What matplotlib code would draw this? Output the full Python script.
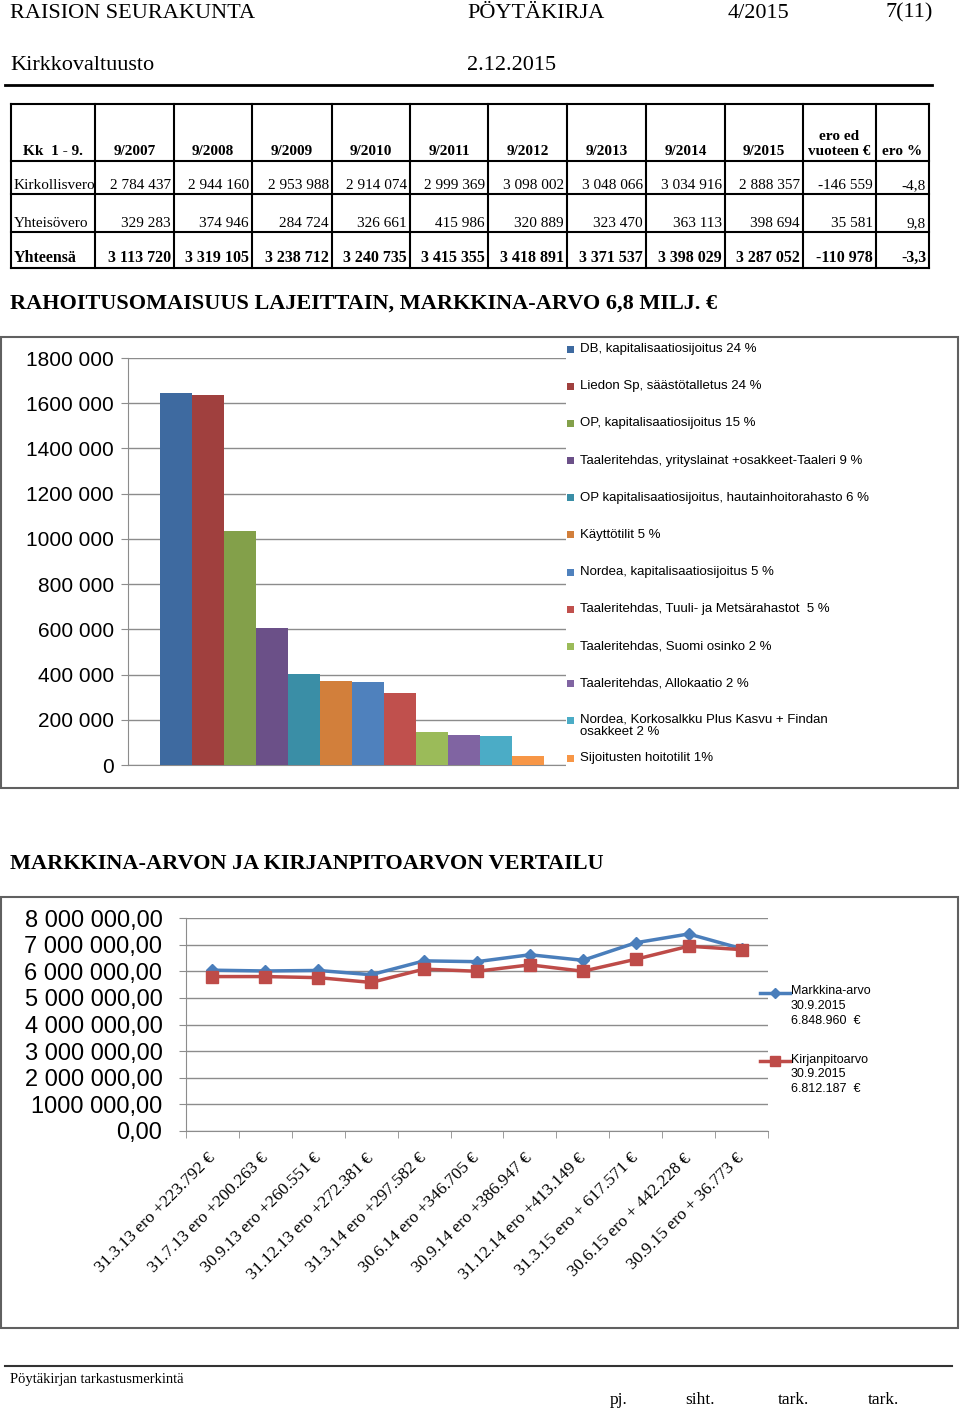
import matplotlib
matplotlib.use('Agg')
import matplotlib.pyplot as plt
from matplotlib.patches import Rectangle
from matplotlib.lines import Line2D

W, H = 960, 1412
SERIF = 'Liberation Serif'
SANS = 'Liberation Sans'
NARROW = ['Liberation Sans Narrow', 'Liberation Sans']

# --- table data ---
tbl_header = ['Kk  1 - 9.', '9/2007', '9/2008', '9/2009', '9/2010', '9/2011',
              '9/2012', '9/2013', '9/2014', '9/2015', 'ero ed\nvuoteen €', 'ero %']
row_names = ['Kirkollisvero', 'Yhteisövero', 'Yhteensä']
kirkollisvero = [2784437, 2944160, 2953988, 2914074, 2999369, 3098002,
                 3048066, 3034916, 2888357, -146559]
yhteisovero = [329283, 374946, 284724, 326661, 415986, 320889,
               323470, 363113, 398694, 35581]
yhteensa = [3113720, 3319105, 3238712, 3240735, 3415355, 3418891,
            3371537, 3398029, 3287052, -110978]
ero_pct = [-4.8, 9.8, -3.3]

# --- bar chart data ---
bar_labels = ['DB, kapitalisaatiosijoitus 24 %',
              'Liedon Sp, säästötalletus 24 %',
              'OP, kapitalisaatiosijoitus 15 %',
              'Taaleritehdas, yrityslainat +osakkeet-Taaleri 9 %',
              'OP kapitalisaatiosijoitus, hautainhoitorahasto 6 %',
              'Käyttötilit 5 %',
              'Nordea, kapitalisaatiosijoitus 5 %',
              'Taaleritehdas, Tuuli- ja Metsärahastot  5 %',
              'Taaleritehdas, Suomi osinko 2 %',
              'Taaleritehdas, Allokaatio 2 %',
              'Nordea, Korkosalkku Plus Kasvu + Findan\nosakkeet 2 %',
              'Sijoitusten hoitotilit 1%']
bar_values = [1645000, 1637000, 1035000, 608000, 403000, 371000,
              366000, 320000, 145000, 132000, 129000, 41000]
bar_colors = ['#3e6aa0', '#a0403e', '#83a04a', '#6b5088', '#3a8ea6', '#d27f3b',
              '#4f81bd', '#c0504d', '#9bbb59', '#8064a2', '#4bacc6', '#f79646']
bar_ticks = [0, 200000, 400000, 600000, 800000, 1000000, 1200000, 1400000, 1600000, 1800000]
bar_ticklabels = ['0', '200 000', '400 000', '600 000', '800 000', '1000 000',
                  '1200 000', '1400 000', '1600 000', '1800 000']

# --- line chart data ---
dates = ['31.3.13 ero +223.792 €', '31.7.13 ero +200.263 €', '30.9.13 ero +260.551 €',
         '31.12.13 ero +272.381 €', '31.3.14 ero +297.582 €', '30.6.14 ero +346.705 €',
         '30.9.14 ero +386.947 €', '31.12.14 ero +413.149 €', '31.3.15 ero + 617.571 €',
         '30.6.15 ero + 442.228 €', '30.9.15 ero + 36.773 €']
markkina = [6040000, 6010000, 6030000, 5870000, 6390000, 6360000,
            6620000, 6410000, 7070000, 7400000, 6848960]
kirjanpito = [5800000, 5800000, 5760000, 5580000, 6080000, 6000000,
              6240000, 6000000, 6450000, 6940000, 6812187]
line_ticks = [0, 1000000, 2000000, 3000000, 4000000, 5000000, 6000000, 7000000, 8000000]
line_ticklabels = ['0,00', '1000 000,00', '2 000 000,00', '3 000 000,00', '4 000 000,00',
                   '5 000 000,00', '6 000 000,00', '7 000 000,00', '8 000 000,00']
line_legend = ['Markkina-arvo\n30.9.2015\n6.848.960  €',
               'Kirjanpitoarvo\n30.9.2015\n6.812.187  €']


def fmt(v):
    return f'{v:,}'.replace(',', ' ')


def px_axes(x0, y0, x1, y1):
    return fig.add_axes([x0 / W, 1 - y1 / H, (x1 - x0) / W, (y1 - y0) / H])


fig = plt.figure(figsize=(W / 100, H / 100), dpi=100)
fig.patch.set_facecolor('white')

GRID = '#8c8c8c'

# bar chart
axb = px_axes(128, 358, 566, 765)
x = list(range(len(bar_values)))
axb.bar(x, bar_values, width=1.0, color=bar_colors, zorder=3)
axb.set_xlim(-1.5, 12.2)
axb.set_ylim(0, 1800000)
axb.set_yticks(bar_ticks, bar_ticklabels, fontsize=15, family=SANS)
axb.set_xticks([])
axb.grid(axis='y', color=GRID, lw=1, zorder=0)
for s in ['top', 'right']:
    axb.spines[s].set_visible(False)
axb.spines['left'].set_color(GRID)
axb.spines['bottom'].set_color(GRID)
axb.tick_params(axis='y', length=5, color=GRID, pad=5)

# line chart
axl = px_axes(186, 918, 768, 1131)
xl = list(range(len(dates)))
axl.plot(xl, markkina, color='#4a7ebb', lw=2.5, marker='D', ms=6, zorder=3)
axl.plot(xl, kirjanpito, color='#be4b48', lw=2.5, marker='s', ms=8, zorder=3)
axl.set_xlim(-0.5, 10.5)
axl.set_ylim(0, 8000000)
axl.set_yticks(line_ticks, line_ticklabels, fontsize=17, family=SANS)
axl.set_xticks(xl, dates, rotation=45, ha='right', va='center',
               rotation_mode='anchor', fontsize=12.5, family=SERIF)
axl.set_xticks([i - 0.5 for i in range(len(dates) + 1)], minor=True)
axl.tick_params(axis='x', which='major', length=0, pad=18)
axl.tick_params(axis='x', which='minor', length=5, color=GRID)
axl.tick_params(axis='y', length=5, color=GRID, pad=12)
axl.grid(axis='y', color=GRID, lw=1, zorder=0)
for s in ['top', 'right']:
    axl.spines[s].set_visible(False)
axl.spines['left'].set_color(GRID)
axl.spines['bottom'].set_color(GRID)

# page overlay: header, table, titles, legends, frames, footer
page = fig.add_axes([0, 0, 1, 1])
page.set_xlim(0, W)
page.set_ylim(H, 0)
page.axis('off')
page.set_zorder(5)

page.text(10, 13, 'RAISION SEURAKUNTA', fontsize=16, family=SERIF, va='center')
page.text(467, 13, 'PÖYTÄKIRJA', fontsize=16, family=SERIF, va='center')
page.text(728, 13, '4/2015', fontsize=16, family=SERIF, va='center')
page.text(933, 13, '7(11)', fontsize=16, family=SERIF, va='center', ha='right')
page.text(10, 66, 'Kirkkovaltuusto', fontsize=16, family=SERIF, va='center')
page.text(467, 66, '2.12.2015', fontsize=16, family=SERIF, va='center')
page.plot([5, 932], [85, 85], color='black', lw=2)

col_edges = [11, 95, 174, 252, 332, 410, 488, 567, 646, 725, 803, 876, 929]
row_edges = [104, 161, 194, 232, 268]
for yy in row_edges:
    page.plot([col_edges[0], col_edges[-1]], [yy, yy], color='black', lw=1.5)
for xx in col_edges:
    page.plot([xx, xx], [row_edges[0], row_edges[-1]], color='black', lw=1.5)
for j, h in enumerate(tbl_header):
    page.text((col_edges[j] + col_edges[j + 1]) / 2, row_edges[1] - 3, h,
              fontsize=11, family=SERIF, weight='bold', ha='center', va='bottom',
              linespacing=1.25)
table_rows = [kirkollisvero, yhteisovero, yhteensa]
for i, (name, vals) in enumerate(zip(row_names, table_rows)):
    bold = 'bold' if i == 2 else 'normal'
    size = 11.5 if i == 2 else 11
    yb = row_edges[i + 2] - 2
    page.text(col_edges[0] + 3, yb, name, fontsize=size, family=SERIF,
              weight=bold, va='bottom')
    cells = [fmt(v) for v in vals] + [f'{ero_pct[i]:.1f}'.replace('.', ',')]
    for j, c in enumerate(cells):
        page.text(col_edges[j + 2] - 3, yb, c, fontsize=size, family=SERIF,
                  weight=bold, ha='right', va='bottom')

page.text(10, 304, 'RAHOITUSOMAISUUS LAJEITTAIN, MARKKINA-ARVO 6,8 MILJ. €',
          fontsize=16, family=SERIF, weight='bold', va='center')
page.text(10, 864, 'MARKKINA-ARVON JA KIRJANPITOARVON VERTAILU',
          fontsize=16, family=SERIF, weight='bold', va='center')

# bar legend
page.add_patch(Rectangle((566, 340), 390, 445, facecolor='white', edgecolor='none'))
step = (758 - 349) / (len(bar_labels) - 1)
for i, (lab, col) in enumerate(zip(bar_labels, bar_colors)):
    yc = 349 + i * step
    page.add_patch(Rectangle((567, yc - 3.5), 7, 7, facecolor=col, edgecolor='none'))
    if '\n' in lab:
        page.text(580, yc - 7.5, lab, fontsize=9.5, family=NARROW, va='top',
                  linespacing=1.05)
    else:
        page.text(580, yc, lab, fontsize=9.5, family=NARROW, va='center')

# line legend
for i, (lab, col, mk, ms) in enumerate(zip(line_legend, ['#4a7ebb', '#be4b48'],
                                           ['D', 's'], [5, 7])):
    yc = 993 + i * 68
    page.add_line(Line2D([760, 790], [yc, yc], color=col, lw=2.5))
    page.add_line(Line2D([775], [yc], color=col, marker=mk, ms=ms))
    page.text(791, yc - 7.5, lab, fontsize=9, family=NARROW, va='top',
              linespacing=1.3)

# chart frames
for y0, y1 in [(337, 788), (897, 1328)]:
    page.add_patch(Rectangle((1, y0), 957, y1 - y0, facecolor='none',
                             edgecolor='#606060', lw=1.5))

# footer
page.plot([5, 952], [1366, 1366], color='#333333', lw=1.5)
page.text(10, 1380, 'Pöytäkirjan tarkastusmerkintä', fontsize=10.5, family=SERIF, va='center')
for xx, t in zip([610, 685, 778, 868], ['pj.', 'siht.', 'tark.', 'tark.']):
    page.text(xx, 1400, t, fontsize=12.5, family=SERIF, va='center')

fig.savefig('out.png', dpi=100)
